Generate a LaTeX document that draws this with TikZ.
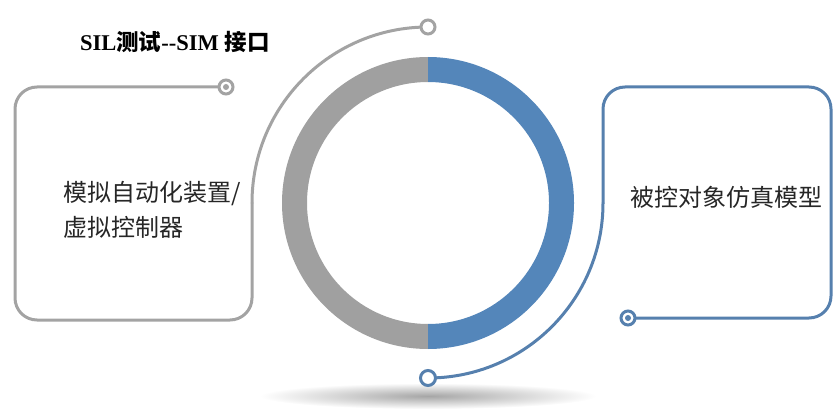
\documentclass[tikz,border=0pt]{standalone}
\usepackage{fontspec}
\setmainfont{Liberation Serif}
\newfontfamily\cjk{Noto Sans CJK SC}
\definecolor{ringgray}{RGB}{160,160,160}
\definecolor{ringblue}{RGB}{84,134,186}
\definecolor{linegray}{RGB}{163,163,163}
\definecolor{lineblue}{RGB}{86,128,174}
\tikzset{
  grayline/.style={draw=linegray, line width=3pt, line cap=round, line join=round},
  blueline/.style={draw=lineblue, line width=3pt, line cap=round, line join=round},
  dotend/.style={circle, line width=3pt, fill=white, minimum size=14pt, inner sep=0pt},
  boxtext/.style={font=\cjk\fontsize{24}{35}\selectfont, text=black!85},
}
\begin{document}
\begin{tikzpicture}[x=1pt,y=1pt]
\useasboundingbox (0,0) rectangle (834,410);
% shadow
\shade[inner color=black!35, outer color=white] (428,14) ellipse [x radius=168, y radius=13];
% ring
\coordinate (c) at (428,207);
\fill[ringgray] (428,353) arc[start angle=90, end angle=270, radius=146] -- (428,86) arc[start angle=270, end angle=90, radius=121] -- cycle;
\fill[ringblue] (428,353) arc[start angle=90, end angle=-90, radius=146] -- (428,86) arc[start angle=-90, end angle=90, radius=121] -- cycle;
% gray frame + arc
\coordinate (gs) at (219,323);
\coordinate (gj) at (252,207);
\draw[grayline, rounded corners=22] (gs) -- (15,323) -- (15,90) -- (252,90) -- (gj);
\draw[grayline] (gj) arc[start angle=180, end angle=90, radius=176] coordinate (gt);
\node[dotend, draw=linegray] (gtop) at (gt) {};
\node[dotend, draw=linegray] (gdot) at (226,323) {};
\fill[linegray] (gdot.center) circle (3);
% blue frame + arc
\coordinate (bs) at (636,92);
\coordinate (bj) at (603,207);
\draw[blueline, rounded corners=22] (bs) -- (831,92) -- (831,323) -- (603,323) -- (bj);
\draw[blueline] (bj) arc[start angle=0, end angle=-90, radius=175] coordinate (bb);
\node[dotend, draw=lineblue, minimum size=15pt] (bbot) at (bb) {};
\node[dotend, draw=lineblue] (bdot) at (628,92) {};
\fill[lineblue] (bdot.center) circle (3);
% texts
\node[anchor=west, inner sep=0pt, font=\fontsize{22.5}{27}\selectfont\bfseries] (title) at (80,368)
  {SIL{\cjk 测试}{-}{-}SIM {\cjk 接口}};
\node[boxtext, anchor=west, align=left, inner sep=0pt] (left) at (63,200) {模拟自动化装置/\\虚拟控制器};
\node[boxtext, anchor=west, inner sep=0pt] (right) at (630,213) {被控对象仿真模型};
\end{tikzpicture}
\end{document}
